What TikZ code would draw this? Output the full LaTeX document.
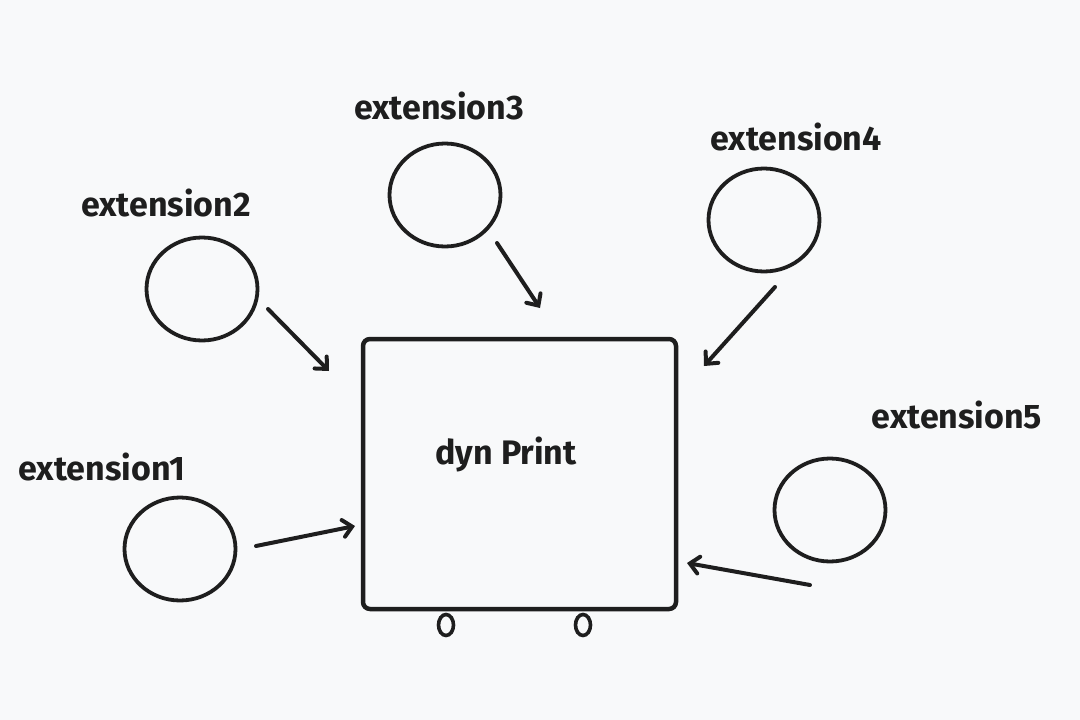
\documentclass[tikz,border=0pt]{standalone}
\usepackage{fontspec}
\setmainfont{Fira Sans}
\usetikzlibrary{arrows.meta,shapes.geometric}
\definecolor{ink}{HTML}{1E1E1E}
\definecolor{bg}{HTML}{F8F9FA}
\begin{document}
\begin{tikzpicture}[x=1pt,y=-1pt,
  ext/.style={ellipse,draw=ink,line width=3.8pt,minimum width=111pt,minimum height=103pt,inner sep=0pt},
  wheel/.style={ellipse,draw=ink,line width=3.6pt,minimum width=15pt,minimum height=21pt,inner sep=0pt},
  lbl/.style={text=ink,font=\fontsize{34}{38}\bfseries\selectfont,inner sep=0pt},
  arr/.style={draw=ink,line width=4pt,line cap=round,line join=round,-{Straight Barb[length=9pt,width=17pt,line cap=round]}}]
\useasboundingbox[fill=bg] (0,0) rectangle (1080,720);
% main box
\node[draw=ink,line width=4.5pt,rounded corners=7pt,minimum width=313pt,minimum height=270pt,inner sep=0pt] (box) at (519.5,474) {};
\node[lbl] (boxtxt) at (506,454) {dyn Print};
% wheels
\node[wheel] (w1) at (446,625) {};
\node[wheel] (w2) at (583,625) {};
% extension circles
\node[ext] (e1) at (180,549) {};
\node[ext] (e2) at (202,289) {};
\node[ext] (e3) at (445,195) {};
\node[ext] (e4) at (764,220) {};
\node[ext] (e5) at (830,510) {};
% labels
\node[lbl] (l1) at (102,467) {extension1};
\node[lbl] (l2) at (166,203) {extension2};
\node[lbl] (l3) at (439,106) {extension3};
\node[lbl] (l4) at (796,137) {extension4};
\node[lbl] (l5) at (957,415) {extension5};
% arrow end points
\coordinate (a1s) at (256,546); \coordinate (a1e) at (355,526);
\coordinate (a2s) at (268,309); \coordinate (a2e) at (329,371);
\coordinate (a3s) at (497,243); \coordinate (a3e) at (540,308);
\coordinate (a4s) at (775,287); \coordinate (a4e) at (704,366);
\coordinate (a5s) at (810,585); \coordinate (a5e) at (687,563);
\draw[arr] (a1s) -- (a1e);
\draw[arr] (a2s) -- (a2e);
\draw[arr] (a3s) -- (a3e);
\draw[arr] (a4s) -- (a4e);
\draw[arr] (a5s) -- (a5e);
\end{tikzpicture}
\end{document}
